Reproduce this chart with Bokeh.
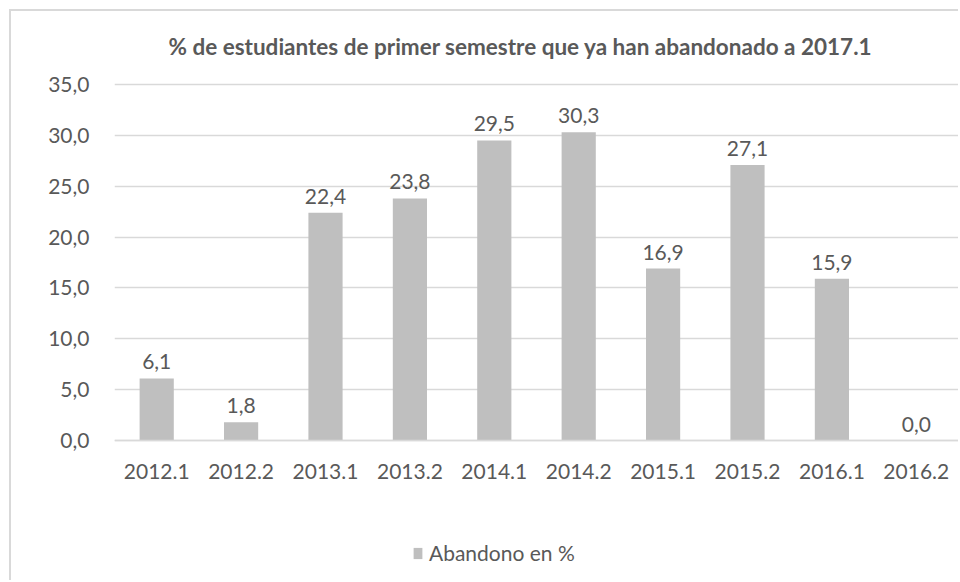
from bokeh.plotting import figure
from bokeh.models import (ColumnDataSource, FixedTicker, Range1d, LabelSet,
                          Legend, LegendItem)
from bokeh.core.properties import value
from bokeh.embed import file_html
from bokeh.resources import INLINE

# ---- data ----
categories = ["2012.1", "2012.2", "2013.1", "2013.2", "2014.1",
              "2014.2", "2015.1", "2015.2", "2016.1", "2016.2"]
abandono = [6.1, 1.8, 22.4, 23.8, 29.5, 30.3, 16.9, 27.1, 15.9, 0.0]
y_ticks = [0, 5, 10, 15, 20, 25, 30, 35]
y_tick_labels = ["0,0", "5,0", "10,0", "15,0", "20,0", "25,0", "30,0", "35,0"]
title_text = "% de estudiantes de primer semestre que ya han abandonado  a 2017.1"
series_name = "Abandono en %"

FONT = "Lato"
TXT = "#595959"
GRID = "#D9D9D9"
BAR = "#BFBFBF"

labels = [f"{v:.1f}".replace(".", ",") for v in abandono]
src = ColumnDataSource(dict(cat=categories, val=abandono, lab=labels))

# the frame reaches the bottom of the canvas, so the legend can sit inside it;
# the category axis is pinned at y = 0
p = figure(x_range=categories, y_range=Range1d(-13.765, 35.2), width=958, height=580,
           output_backend="svg", toolbar_location=None,
           min_border_left=114, min_border_right=0, min_border_top=82,
           min_border_bottom=0)
p.outline_line_color = None
p.background_fill_color = "white"
p.border_fill_color = None
# chart-area border (left and top edges), drawn behind the transparent canvas
p.styles = {
    "background": ("linear-gradient(#D9D9D9, #D9D9D9) 9px 9px / 2px 100% no-repeat, "
                   "linear-gradient(#D9D9D9, #D9D9D9) 9px 9px / 100% 2px no-repeat, "
                   "white"),
}

r = p.vbar(x="cat", top="val", width=0.405, source=src,
           fill_color=BAR, line_color=None)

p.add_layout(LabelSet(x="cat", y="val", text="lab", source=src,
                      text_align="center", text_baseline="alphabetic",
                      y_offset=9, text_font=value(FONT), text_font_size="21px",
                      text_color=TXT))

# axes
p.yaxis.ticker = FixedTicker(ticks=y_ticks)
p.yaxis.major_label_overrides = {t: l for t, l in zip(y_ticks, y_tick_labels)}
for ax in (p.xaxis, p.yaxis):
    ax.major_tick_line_color = None
    ax.minor_tick_line_color = None
    ax.major_label_text_font = FONT
    ax.major_label_text_font_size = "21px"
    ax.major_label_text_color = TXT
p.yaxis.axis_line_color = None
p.yaxis.major_label_standoff = 19
p.xaxis.fixed_location = 0
p.xaxis.axis_line_color = GRID
p.xaxis.axis_line_width = 1.5
p.xaxis.major_label_standoff = 17
p.xgrid.grid_line_color = None
p.ygrid.grid_line_color = GRID
p.ygrid.grid_line_width = 1.5
p.ygrid.ticker = FixedTicker(ticks=y_ticks)

# title
p.title.text = title_text
p.title.align = "left"
p.title.offset = 54
p.title.standoff = 46
p.title.text_font = FONT
p.title.text_font_style = "bold"
p.title.text_font_size = "22.5px"
p.title.text_color = TXT

legend = Legend(items=[LegendItem(label=series_name, renderers=[r])],
                location=(298, 15), orientation="horizontal",
                padding=0, margin=0, label_standoff=6,
                glyph_width=11, glyph_height=14,
                label_text_font=FONT, label_text_font_size="21px",
                label_text_color=TXT, border_line_alpha=0,
                background_fill_alpha=0)
p.add_layout(legend, "center")

open("out.html", "w").write(file_html(p, INLINE))
